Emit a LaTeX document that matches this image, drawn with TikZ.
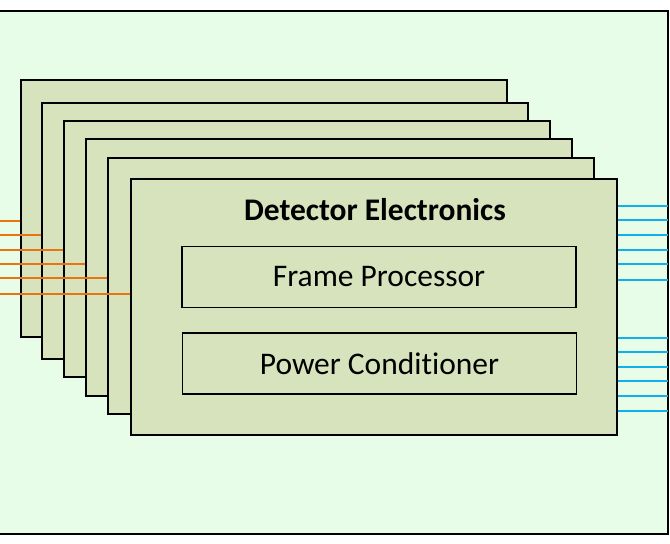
\documentclass[tikz,border=0pt]{standalone}
\usepackage{fontspec}
\setmainfont{Carlito}[Ligatures=NoCommon]
\definecolor{backgreen}{HTML}{E8FDE8}
\definecolor{boardgreen}{HTML}{D7E3BC}
\definecolor{wireorange}{HTML}{E9730F}
\definecolor{wireblue}{HTML}{0FB0EC}
\begin{document}
\begin{tikzpicture}[
    x=0.75pt, y=-0.75pt,
    board/.style={
      draw=black,
      fill=boardgreen,
      line width=1.6pt,
      minimum width=364.5pt,
      minimum height=192.4pt,
      inner sep=0pt
    },
    unit/.style={
      draw=black,
      line width=1.1pt,
      minimum width=295.5pt,
      minimum height=46pt,
      inner sep=0pt,
      font=\fontsize{23.6}{27}\selectfont
    },
    inwire/.style={draw=wireorange, line width=1.4pt},
    outwire/.style={draw=wireblue, line width=1.4pt}
  ]
    \useasboundingbox (0,0) rectangle (670,543);
    \draw[fill=backgreen, line width=1.6pt] (-3,11) rectangle (668,534);

    \node[board] (b1) at (264,208.5) {};
    \node[board] (b2) at (285,231) {};
    \node[board] (b3) at (307,249) {};
    \node[board] (b4) at (329,267.5) {};
    \node[board] (b5) at (351,286) {};
    \node[board] (b6) at (374,307) {};

    \node[font=\fontsize{23.6}{27}\selectfont\bfseries, anchor=base] (title) at (375,220) {Detector Electronics};
    \node[unit] (frame) at (379,277) {Frame Processor};
    \node[unit] (power) at (379.5,363.5) {Power Conditioner};

    % inputs, one per board
    \coordinate (in1) at (0,221);
    \coordinate (in2) at (0,235);
    \coordinate (in3) at (0,250);
    \coordinate (in4) at (0,264);
    \coordinate (in5) at (0,278);
    \coordinate (in6) at (0,294);
    \draw[inwire] (in1) -- (in1 -| b1.west);
    \draw[inwire] (in2) -- (in2 -| b2.west);
    \draw[inwire] (in3) -- (in3 -| b3.west);
    \draw[inwire] (in4) -- (in4 -| b4.west);
    \draw[inwire] (in5) -- (in5 -| b5.west);
    \draw[inwire] (in6) -- (in6 -| b6.west);

    % outputs
    \foreach \y [count=\i] in {206,220,234.7,249.7,264.3,280,338.3,352.3,366.7,381.3,396,410.7} {
      \coordinate (out\i) at (668,\y);
      \draw[outwire] (b6.east |- out\i) -- (out\i);
    }
  \end{tikzpicture}
\end{document}
